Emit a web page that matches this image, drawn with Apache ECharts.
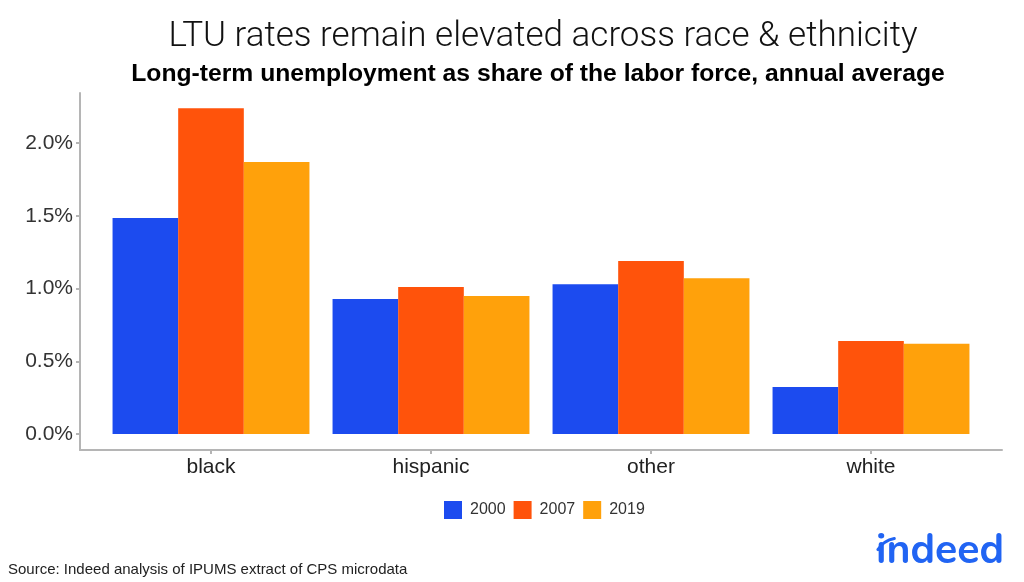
<!DOCTYPE html>
<html><head><meta charset="utf-8">
<script src="https://cdn.jsdelivr.net/npm/echarts@6/dist/echarts.min.js"></script>
<style>html,body{margin:0;padding:0;background:#fff}#c{width:1024px;height:582px}</style>
</head><body><div id="c"></div>
<script>
const categories = ['black', 'hispanic', 'other', 'white'];
const years = ['2000', '2007', '2019'];
const v2000 = [1.485, 0.928, 1.03, 0.323];
const v2007 = [2.24, 1.01, 1.19, 0.64];
const v2019 = [1.87, 0.948, 1.07, 0.62];
const yTicks = [0, 0.5, 1, 1.5, 2];
const colors = ['#1c4bef', '#ff530b', '#ffa10b'];

const chart = echarts.init(document.getElementById('c'), null, {renderer: 'canvas'});
const yMin = -0.11, yMax = 2.344;
const axisGrey = '#b5b5b5';
const series = [v2000, v2007, v2019].map((d, i) => ({
  name: years[i], type: 'bar', data: d, xAxisIndex: 1, yAxisIndex: 1,
  barGap: '0%', barCategoryGap: '10.5%', itemStyle: {color: colors[i]}
}));
chart.setOption({
  animation: false,
  title: [
    {text: 'LTU rates remain elevated across race & ethnicity', left: 538, textAlign: 'center', top: 15,
     textStyle: {fontFamily: 'Roboto', fontWeight: 300, fontSize: 35, color: '#111'}},
    {text: 'Long-term unemployment as share of the labor force, annual average', left: 533, textAlign: 'center', top: 57,
     textStyle: {fontFamily: 'Liberation Sans', fontWeight: 'bold', fontSize: 24.7, color: '#000'}},
    {text: 'Source: Indeed analysis of IPUMS extract of CPS microdata', left: 3, top: 557,
     textStyle: {fontFamily: 'Liberation Sans', fontWeight: 'normal', fontSize: 15, color: '#222'}}
  ],
  legend: {data: years, left: 439, top: 496, itemWidth: 18, itemHeight: 18, itemGap: 8, padding: 5,
    icon: 'rect', textStyle: {fontFamily: 'Liberation Sans', fontSize: 16, color: '#333', padding: [0, 0, 0, 3]}},
  grid: [
    {left: 80, right: 22, top: 93, bottom: 132},
    {left: 101, right: 43, top: 93, bottom: 132}
  ],
  xAxis: [
    {type: 'value', gridIndex: 0, min: 0, max: 1,
     axisLine: {show: true, onZero: false, lineStyle: {color: axisGrey, width: 2}},
     axisTick: {show: false}, axisLabel: {show: false}, splitLine: {show: false}},
    {type: 'category', gridIndex: 1, data: categories, axisLine: {show: false, onZero: false},
     axisTick: {show: true, alignWithLabel: true, length: 4, lineStyle: {color: axisGrey, width: 2}},
     axisLabel: {fontFamily: 'Liberation Sans', fontSize: 21, color: '#222', margin: 7}}
  ],
  yAxis: [
    {type: 'value', gridIndex: 0, min: yMin, max: yMax,
     axisLine: {show: true, onZero: false, lineStyle: {color: axisGrey, width: 2}},
     axisTick: {show: true, length: 4, customValues: yTicks, lineStyle: {color: axisGrey, width: 2}},
     axisLabel: {customValues: yTicks, fontFamily: 'Liberation Sans', fontSize: 21, color: '#333', margin: 7,
       formatter: v => v.toFixed(1) + '%'},
     splitLine: {show: false}},
    {type: 'value', gridIndex: 1, min: yMin, max: yMax, show: false, splitLine: {show: false}}
  ],
  series: series,
  graphic: [
    {type: 'text', left: 876, top: 533, style: {text: 'indeed', fontFamily: 'Nunito, "Open Sans", sans-serif', fontWeight: 'bold', fontSize: 41, fill: '#2164f3'}},
    {type: 'arc', shape: {cx: 899, cy: 563, r: 25, startAngle: -Math.PI * 0.82, endAngle: -Math.PI * 0.56},
     style: {stroke: '#2164f3', lineWidth: 3, fill: null, lineCap: 'round'}}
  ]
});
</script></body></html>
